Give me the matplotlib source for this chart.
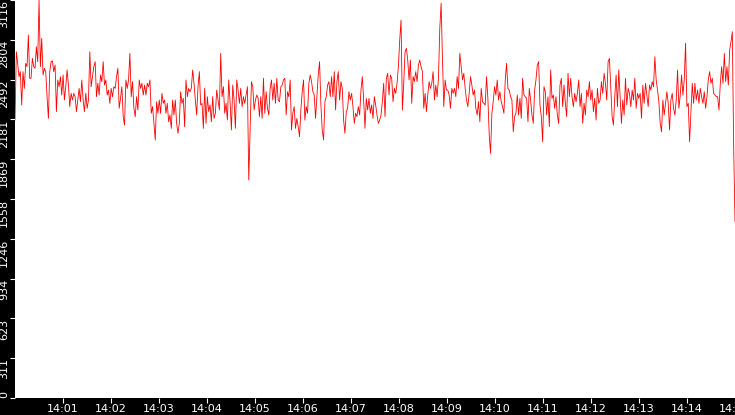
import numpy as np
import matplotlib
matplotlib.use("Agg")
import matplotlib.pyplot as plt

# readings sampled roughly every 1.67 s, split by time span
load_1400_1405 = [
    2176, 2711, 2620, 2516, 2555, 2294, 2555, 2424, 2620, 2594, 2842, 2503, 2503, 2659, 2594, 2581,
    2751, 2633, 3116, 2594, 2816, 2529, 2581, 2555, 2359, 2189, 2555, 2633, 2640, 2555, 2607, 2242,
    2490, 2437, 2516, 2372, 2529, 2333, 2437, 2568, 2450, 2281, 2385, 2333, 2385, 2359, 2242, 2333,
    2424, 2320, 2490, 2333, 2242, 2385, 2268, 2333, 2711, 2437, 2516, 2594, 2633, 2359, 2464, 2372,
    2529, 2477, 2633, 2450, 2490, 2372, 2411, 2307, 2424, 2359, 2437, 2424, 2516, 2581, 2268, 2346,
    2437, 2203, 2137, 2490, 2424, 2490, 2698, 2359, 2477, 2268, 2203, 2359, 2255, 2490, 2424, 2464,
    2372, 2450, 2372, 2464, 2437, 2490, 2229, 2281, 2150, 2020, 2320, 2229, 2333, 2229, 2385, 2307,
    2333, 2229, 2307, 2163, 2216, 2111, 2333, 2216, 2333, 2150, 2072, 2150, 2398, 2307, 2346, 2124,
    2490, 2359, 2424, 2398, 2424, 2568, 2464, 2333, 2216, 2437, 2555, 2294, 2307, 2111, 2424, 2150,
    2359, 2242, 2294, 2163, 2359, 2189, 2229, 2411, 2333, 2255, 2698, 2359, 2437, 2229, 2307, 2176,
    2490, 2320, 2098, 2450, 2333, 2111, 2490, 2411, 2307, 2424, 2281, 2359, 2307, 2372, 2437, 1707,
]
load_1405_1407 = [
    2098, 2477, 2437, 2255, 2333, 2372, 2346, 2203, 2359, 2189, 2503, 2229, 2398, 2268, 2216, 2424,
    2490, 2333, 2464, 2307, 2503, 2333, 2320, 2437, 2450, 2490, 2503, 2216, 2398, 2359, 2490, 2098,
    2229, 2281, 2111, 2189, 2124, 2046, 2255, 2398, 2490, 2176, 2281, 2229, 2464, 2529, 2477, 2398,
    2372, 2189, 2359, 2529, 2633, 2294, 2098, 2020, 2320, 2359, 2450, 2477, 2359, 2516, 2359, 2555,
    2255, 2477, 2555, 2333, 2477, 2424, 2176, 2072, 2242, 2268, 2398, 2333, 2385, 2281, 2150, 2229,
    2203, 2281, 2216, 2411, 2516, 2333, 2111, 2346, 2255, 2346, 2229, 2294, 2189, 2359, 2294, 2216,
    2150,
]
load_1407_1410 = [
    2176, 2216, 2320, 2464, 2203, 2503, 2542, 2372, 2529, 2503, 2320, 2424, 2385, 2464, 2594, 2803,
    2959, 2255, 2464, 2711, 2738, 2646, 2490, 2646, 2307, 2516, 2477, 2555, 2477, 2607, 2646, 2594,
    2555, 2268, 2385, 2242, 2372, 2477, 2424, 2464, 2555, 2333, 2450, 2359, 2503, 2894, 3090, 2659,
    2281, 2490, 2411, 2411, 2372, 2268, 2424, 2385, 2424, 2359, 2516, 2424, 2698, 2594, 2490, 2542,
    2424, 2333, 2281, 2385, 2516, 2450, 2372, 2411, 2268, 2216, 2320, 2163, 2424, 2320, 2307, 2294,
    2516, 2346, 2059, 1915, 2229, 2320, 2437, 2372, 2490, 2333, 2398, 2320, 2281, 2229, 2490, 2620,
    2424,
]
load_1410_1415 = [
    2411, 2359, 2333, 2085, 2203, 2229, 2372, 2216, 2346, 2189, 2503, 2372, 2359, 2346, 2163, 2424,
    2333, 2216, 2150, 2411, 2490, 2607, 2633, 2294, 2203, 2007, 2437, 2398, 2216, 2359, 2124, 2568,
    2346, 2372, 2268, 2359, 2216, 2150, 2450, 2503, 2281, 2450, 2307, 2203, 2542, 2359, 2503, 2359,
    2281, 2385, 2320, 2385, 2490, 2281, 2385, 2150, 2307, 2216, 2411, 2359, 2477, 2333, 2411, 2242,
    2346, 2176, 2424, 2307, 2333, 2477, 2385, 2542, 2464, 2333, 2633, 2659, 2424, 2203, 2137, 2359,
    2529, 2281, 2568, 2359, 2150, 2333, 2216, 2503, 2294, 2424, 2385, 2281, 2411, 2333, 2503, 2268,
    2385, 2346, 2385, 2189, 2450, 2307, 2464, 2372, 2281, 2450, 2411, 2477, 2437, 2672, 2490, 2411,
    2320, 2150, 2085, 2333, 2216, 2307, 2398, 2307, 2098, 2333, 2385, 2268, 2216, 2333, 2568, 2268,
    2372, 2529, 2372, 2490, 2777, 2281, 2307, 2007, 2229, 2464, 2307, 2464, 2333, 2411, 2307, 2424,
    2359, 2307, 2398, 2268, 2359, 2490, 2555, 2464, 2503, 2385, 2372, 2359, 2359, 2255, 2464, 2594,
    2464, 2698, 2477, 2594, 2450, 2725, 2790, 2868, 1968, 1380,
]

y_max = 3116
y_ticks = [i * y_max / 10 for i in range(11)]
y_labels = [str(int(v)) for v in y_ticks]
x_ticks = list(range(1, 16))  # minutes after 14:00
x_labels = ["14:%02d" % m for m in x_ticks]

values = load_1400_1405 + load_1405_1407 + load_1407_1410 + load_1410_1415
minutes = np.linspace(0, 15, len(values))

fig = plt.figure(figsize=(7.35, 4.15), dpi=100, facecolor="black")
ax = fig.add_axes([15 / 735, 17 / 415, 720 / 735, 398 / 415])
ax.set_facecolor("white")
ax.plot(minutes, values, color="#ff0000", lw=0.6)

ax.set_xlim(0, 15)
ax.set_ylim(0, y_max)
ax.set_xticks(x_ticks)
ax.set_xticklabels(x_labels)
ax.set_yticks(y_ticks)
ax.set_yticklabels(y_labels, rotation=90, va="top")
ax.tick_params(colors="white", labelsize=8, length=3.6, width=0.8, pad=0.5)
for s in ax.spines.values():
    s.set_visible(False)
ax.get_yticklabels()[0].set_va("bottom")

fig.savefig("out.png", dpi=100, facecolor="black")
